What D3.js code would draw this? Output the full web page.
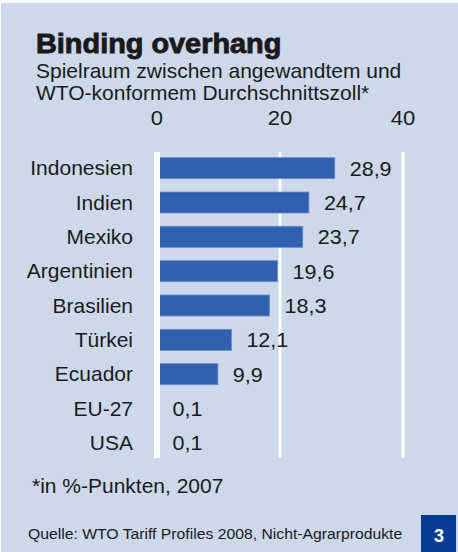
<!DOCTYPE html>
<html>
<head>
<meta charset="utf-8">
<script src="https://cdn.jsdelivr.net/npm/d3@7.9.0/dist/d3.min.js"></script>
<style>
  html, body { margin: 0; padding: 0; background: #fff; }
  svg { display: block; font-family: "Liberation Sans", Arial, sans-serif; }
</style>
</head>
<body>
<div id="chart"></div>
<script>
const countries = ['Indonesien', 'Indien', 'Mexiko', 'Argentinien', 'Brasilien', 'Türkei', 'Ecuador', 'EU-27', 'USA'];
const values    = [28.9, 24.7, 23.7, 19.6, 18.3, 12.1, 9.9, 0.1, 0.1];
const ticks     = [0, 20, 40];

const width  = 458;
const height = 552;
const stretch = 1.05;   // source type is set a bit wider than Liberation Sans

const data = countries.map((c, i) => ({ country: c, value: values[i] }));
const fmt = v => d3.format('.1f')(v).replace('.', ',');

const svg = d3.select('#chart').append('svg')
  .attr('width', width)
  .attr('height', height);

svg.append('rect')
  .attr('x', 1).attr('y', 3)
  .attr('width', width - 1).attr('height', height - 3)
  .attr('fill', '#cdd8ea');

const x = d3.scaleLinear().domain([0, 40]).range([157, 403]);
const y = d3.scaleBand().domain(countries).range([151, 460])
  .paddingInner(0.388).paddingOuter(0.194);

// title block
svg.append('text')
  .attr('x', 36).attr('y', 53)
  .attr('font-size', 27.5).attr('font-weight', 'bold')
  .attr('fill', '#1a1a1a').attr('stroke', '#1a1a1a').attr('stroke-width', 0.9)
  .text('Binding overhang');

svg.append('text').attr('x', 36).attr('y', 78).attr('font-size', 20).attr('fill', '#1a1a1a')
  .text('Spielraum zwischen angewandtem und');
svg.append('text').attr('x', 36).attr('y', 100).attr('font-size', 20).attr('fill', '#1a1a1a')
  .text('WTO-konformem Durchschnittszoll*');

// tick labels on top
svg.append('g').selectAll('text')
  .data(ticks)
  .join('text')
  .attr('x', d => x(d)).attr('y', 125)
  .attr('text-anchor', 'middle')
  .attr('font-size', 21).attr('fill', '#1a1a1a')
  .text(d => d);

// gridlines behind bars (20, 40)
svg.append('g').selectAll('line')
  .data(ticks.filter(d => d > 0))
  .join('line')
  .attr('x1', d => x(d)).attr('x2', d => x(d))
  .attr('y1', 152).attr('y2', 458)
  .attr('stroke', '#fff').attr('stroke-width', 3);

// bars
svg.append('g').selectAll('rect')
  .data(data)
  .join('rect')
  .attr('x', x(0))
  .attr('y', d => y(d.country))
  .attr('width', d => x(d.value) - x(0))
  .attr('height', y.bandwidth())
  .attr('fill', '#3060ad')
  .attr('stroke', '#6d8fca').attr('stroke-width', 0.8);

// zero line on top of bars
svg.append('line')
  .attr('x1', x(0)).attr('x2', x(0))
  .attr('y1', 152).attr('y2', 458)
  .attr('stroke', '#fff').attr('stroke-width', 6);

// country labels
svg.append('g').selectAll('text')
  .data(data)
  .join('text')
  .attr('x', 133)
  .attr('y', d => y(d.country) + y.bandwidth() / 2)
  .attr('dy', '0.36em')
  .attr('text-anchor', 'end')
  .attr('font-size', 20).attr('fill', '#1a1a1a')
  .text(d => d.country);

// value labels
svg.append('g').selectAll('text')
  .data(data)
  .join('text')
  .attr('x', d => x(d.value) + 15)
  .attr('y', d => y(d.country) + y.bandwidth() / 2)
  .attr('dy', '0.36em')
  .attr('font-size', 20.5).attr('fill', '#1a1a1a')
  .text(d => fmt(d.value));

// footnote + source
svg.append('text').attr('x', 32).attr('y', 493).attr('font-size', 20).attr('fill', '#1a1a1a')
  .text('*in %-Punkten, 2007');
svg.append('text').attr('x', 28).attr('y', 539).attr('font-size', 15).attr('fill', '#1a1a1a')
  .text('Quelle: WTO Tariff Profiles 2008, Nicht-Agrarprodukte');

// page badge
svg.append('rect')
  .attr('x', 421).attr('y', 515).attr('width', 35).attr('height', 37)
  .attr('fill', '#043c96');

svg.selectAll('text').each(function () {
  const t = d3.select(this);
  const tx = +t.attr('x');
  t.attr('transform', `translate(${tx},0) scale(${stretch},1) translate(${-tx},0)`);
});

svg.append('text')
  .attr('x', 439).attr('y', 542)
  .attr('text-anchor', 'middle')
  .attr('font-size', 18).attr('font-weight', 'bold')
  .attr('fill', '#fff')
  .text('3');
</script>
</body>
</html>
